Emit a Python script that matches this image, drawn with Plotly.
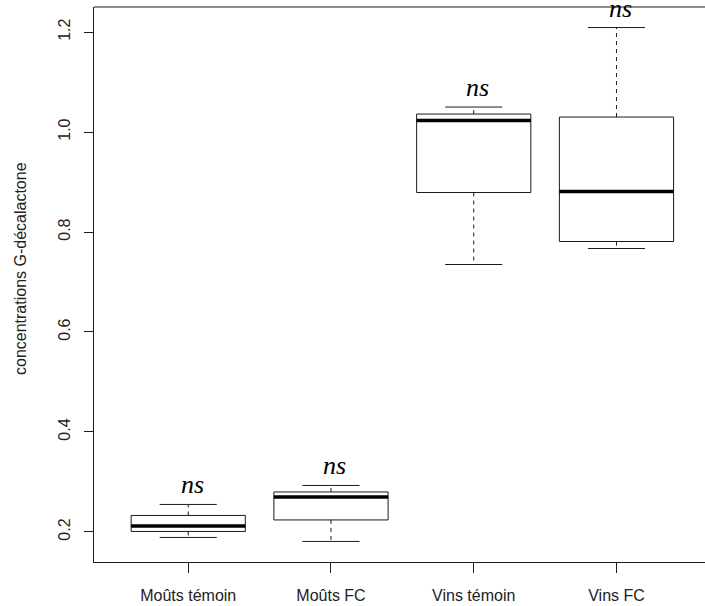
import plotly.graph_objects as go

categories = ["Moûts témoin", "Moûts FC", "Vins témoin", "Vins FC"]
lower_whisker = [0.189, 0.181, 0.735, 0.767]
q1 = [0.201, 0.224, 0.879, 0.781]
median = [0.212, 0.270, 1.023, 0.881]
q3 = [0.233, 0.280, 1.036, 1.030]
upper_whisker = [0.255, 0.293, 1.050, 1.209]
sig_labels = ["ns", "ns", "ns", "ns"]
y_ticks = [0.2, 0.4, 0.6, 0.8, 1.0, 1.2]
y_title = "concentrations G-décalactone"

pos = list(range(1, len(categories) + 1))
half = 0.4       # half box width (R boxwex = 0.8)
cap = 0.2        # half staple width
ink = "#1a1a1a"

fig = go.Figure()

# boxes (no whiskers; drawn separately as dashed lines)
fig.add_trace(go.Box(
    x=pos, q1=q1, median=median, q3=q3,
    lowerfence=q1, upperfence=q3,
    width=2 * half, whiskerwidth=0,
    fillcolor="white", line=dict(color=ink, width=1),
    boxpoints=False, hoverinfo="skip", showlegend=False,
))

def seg(xs0, xs1, ys0, ys1):
    X, Y = [], []
    for a, b, c, d in zip(xs0, xs1, ys0, ys1):
        X += [a, b, None]
        Y += [c, d, None]
    return X, Y

# dashed whiskers
wx, wy = seg(pos, pos, q3, upper_whisker)
wx2, wy2 = seg(pos, pos, q1, lower_whisker)
fig.add_trace(go.Scatter(x=wx + wx2, y=wy + wy2, mode="lines",
                         line=dict(color=ink, width=1, dash="4px,4px"),
                         hoverinfo="skip", showlegend=False))
# staples
cx, cy = seg([p - cap for p in pos], [p + cap for p in pos], upper_whisker, upper_whisker)
cx2, cy2 = seg([p - cap for p in pos], [p + cap for p in pos], lower_whisker, lower_whisker)
fig.add_trace(go.Scatter(x=cx + cx2, y=cy + cy2, mode="lines",
                         line=dict(color=ink, width=1),
                         hoverinfo="skip", showlegend=False))
# thick medians
mx, my = seg([p - half for p in pos], [p + half for p in pos], median, median)
fig.add_trace(go.Scatter(x=mx, y=my, mode="lines",
                         line=dict(color="black", width=3.5),
                         hoverinfo="skip", showlegend=False))

# significance labels
for p, u, lab in zip(pos, upper_whisker, sig_labels):
    fig.add_annotation(x=p, y=u + 0.039, text=f"<i>{lab}</i>", showarrow=False,
                       xshift=4,
                       font=dict(family="Liberation Serif", size=26, color="black"),
                       xanchor="center", yanchor="middle")

lo, hi = min(lower_whisker), max(upper_whisker)
pad = 0.04 * (hi - lo)

fig.update_layout(
    width=705, height=606,
    margin=dict(l=94, r=0, t=7, b=44),
    paper_bgcolor="white", plot_bgcolor="white",
    font=dict(family="Liberation Sans", size=16, color="#222"),
    xaxis=dict(range=[0.34, 4.62], tickvals=pos, ticktext=categories,
               showline=True, linecolor=ink, linewidth=1, mirror=False,
               ticks="outside", ticklen=10, tickcolor=ink, tickwidth=1,
               showgrid=False, zeroline=False, ticklabelstandoff=9),
    yaxis=dict(range=[lo - pad, hi + pad], tickvals=y_ticks,
               ticktext=[f"{v:.1f}" for v in y_ticks], tickangle=-90,
               showline=True, linecolor=ink, linewidth=1, mirror=False,
               ticks="outside", ticklen=9, tickcolor=ink, tickwidth=1,
               showgrid=False, zeroline=False, ticklabelstandoff=8),
    shapes=[dict(type="line", xref="paper", yref="paper", x0=0, x1=1, y0=1, y1=1,
                 line=dict(color=ink, width=1), layer="above")],
)

fig.add_annotation(xref="paper", yref="paper", x=(20 - 94) / 611, y=(562 - 269) / 555,
                   text=y_title, textangle=-90, showarrow=False,
                   xanchor="center", yanchor="middle",
                   font=dict(family="Liberation Sans", size=16, color="#222"))

fig.write_html("out.html", config={"displayModeBar": False},
               post_script="document.body.style.margin='0';document.body.style.overflow='hidden';")
